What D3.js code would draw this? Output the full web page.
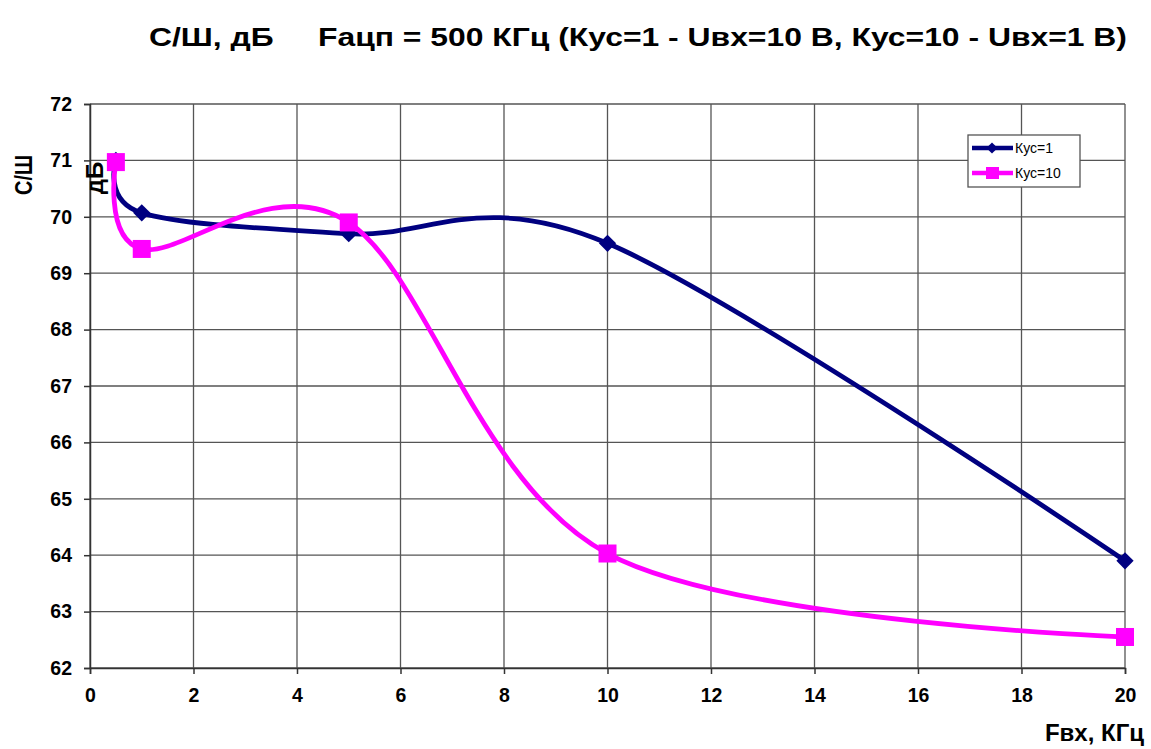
<!DOCTYPE html>
<html><head><meta charset="utf-8">
<script src="https://cdn.jsdelivr.net/npm/d3@7"></script>
<style>body{margin:0;background:#fff}svg{display:block;font-family:"Liberation Sans",Arial,sans-serif}</style>
</head><body><svg id="c" width="1151" height="749"></svg>
<script>
const xTicks = [0,2,4,6,8,10,12,14,16,18,20];
const yTicks = [62,63,64,65,66,67,68,69,70,71,72];
const freq = [0.5, 1, 5, 10, 20];
const kus1 = [71.0, 70.07, 69.7, 69.53, 63.9];
const kus10 = [70.97, 69.43, 69.9, 64.03, 62.55];
const seriesNames = ["Кус=1", "Кус=10"];
const colors = ["#000080", "#FF00FF"];

const svg = d3.select("#c");
const x = d3.scaleLinear().domain([0,20]).range([90,1125]);
const y = d3.scaleLinear().domain([62,72]).range([668,104]);

// grid
svg.append("g").selectAll("line").data(yTicks).join("line")
  .attr("x1",x(0)).attr("x2",x(20)).attr("y1",d=>y(d)).attr("y2",d=>y(d))
  .attr("stroke","#555").attr("stroke-width",1.3);
svg.append("g").selectAll("line").data(xTicks).join("line")
  .attr("y1",y(62)).attr("y2",y(72)).attr("x1",d=>x(d)).attr("x2",d=>x(d))
  .attr("stroke","#555").attr("stroke-width",1.3);

const xa = svg.append("g").attr("transform",`translate(0,${y(62)})`)
  .call(d3.axisBottom(x).tickValues(xTicks).tickSize(6).tickPadding(14).tickFormat(d3.format("d")));
const ya = svg.append("g").attr("transform",`translate(${x(0)},0)`)
  .call(d3.axisLeft(y).tickValues(yTicks).tickSize(6).tickPadding(12).tickFormat(d3.format("d")));
[xa,ya].forEach(a=>{
  a.selectAll("path,line").attr("stroke","#333").attr("stroke-width",1.5);
  a.selectAll("text").attr("font-size",19.5).attr("font-weight","bold").attr("fill","#000")
   .attr("font-family","Liberation Sans, Arial, sans-serif");
});

const line = d3.line().x(d=>x(d[0])).y(d=>y(d[1])).curve(d3.curveCardinal.tension(0));
const data = [kus1,kus10].map(s=>freq.map((f,i)=>[f,s[i]]));

data.forEach((pts,i)=>{
  svg.append("path").attr("d",line(pts)).attr("fill","none").attr("stroke",colors[i]).attr("stroke-width",4.8);
});
// markers
svg.append("g").selectAll("path").data(data[0]).join("path")
  .attr("transform",d=>`translate(${x(d[0])},${y(d[1])})`)
  .attr("d",d3.symbol(d3.symbolDiamond2,190)).attr("fill",colors[0]);
svg.append("g").selectAll("rect").data(data[1]).join("rect")
  .attr("x",d=>x(d[0])-9).attr("y",d=>y(d[1])-9).attr("width",18).attr("height",18).attr("fill",colors[1]);

// legend
const lg = svg.append("g");
lg.append("rect").attr("x",968).attr("y",135).attr("width",112).attr("height",52)
  .attr("fill","#fff").attr("stroke","#555").attr("stroke-width",1.3);
seriesNames.forEach((n,i)=>{
  const yy = 148 + i*25;
  lg.append("line").attr("x1",972).attr("x2",1013).attr("y1",yy).attr("y2",yy)
    .attr("stroke",colors[i]).attr("stroke-width",4.5);
  if(i===0) lg.append("path").attr("transform",`translate(992,${yy})`).attr("d",d3.symbol(d3.symbolDiamond2,80)).attr("fill",colors[0]);
  else lg.append("rect").attr("x",986).attr("y",yy-6).attr("width",13).attr("height",12).attr("fill",colors[1]);
  lg.append("text").attr("x",1015).attr("y",yy+5).attr("font-size",14).text(n);
});

// title
svg.append("text").attr("x",638).attr("y",46).attr("text-anchor","middle").style("white-space","pre")
  .attr("font-size",25).attr("font-weight","bold").attr("textLength",978).attr("lengthAdjust","spacingAndGlyphs")
  .text("С/Ш, дБ     Fацп = 500 КГц (Кус=1 - Uвх=10 В, Кус=10 - Uвх=1 В)");
// x label
svg.append("text").attr("x",1144).attr("y",741).attr("text-anchor","end")
  .attr("font-size",24).attr("font-weight","bold").text("Fвх, КГц");
// y label
svg.append("text").attr("transform","translate(32,175) rotate(-90)").attr("text-anchor","middle")
  .attr("font-size",24).attr("font-weight","bold").attr("textLength",40).attr("lengthAdjust","spacingAndGlyphs").text("С/Ш");
svg.append("text").attr("transform","translate(103,178) rotate(-90)").attr("text-anchor","middle")
  .attr("font-size",24).attr("font-weight","bold").text("дБ");
</script></body></html>
